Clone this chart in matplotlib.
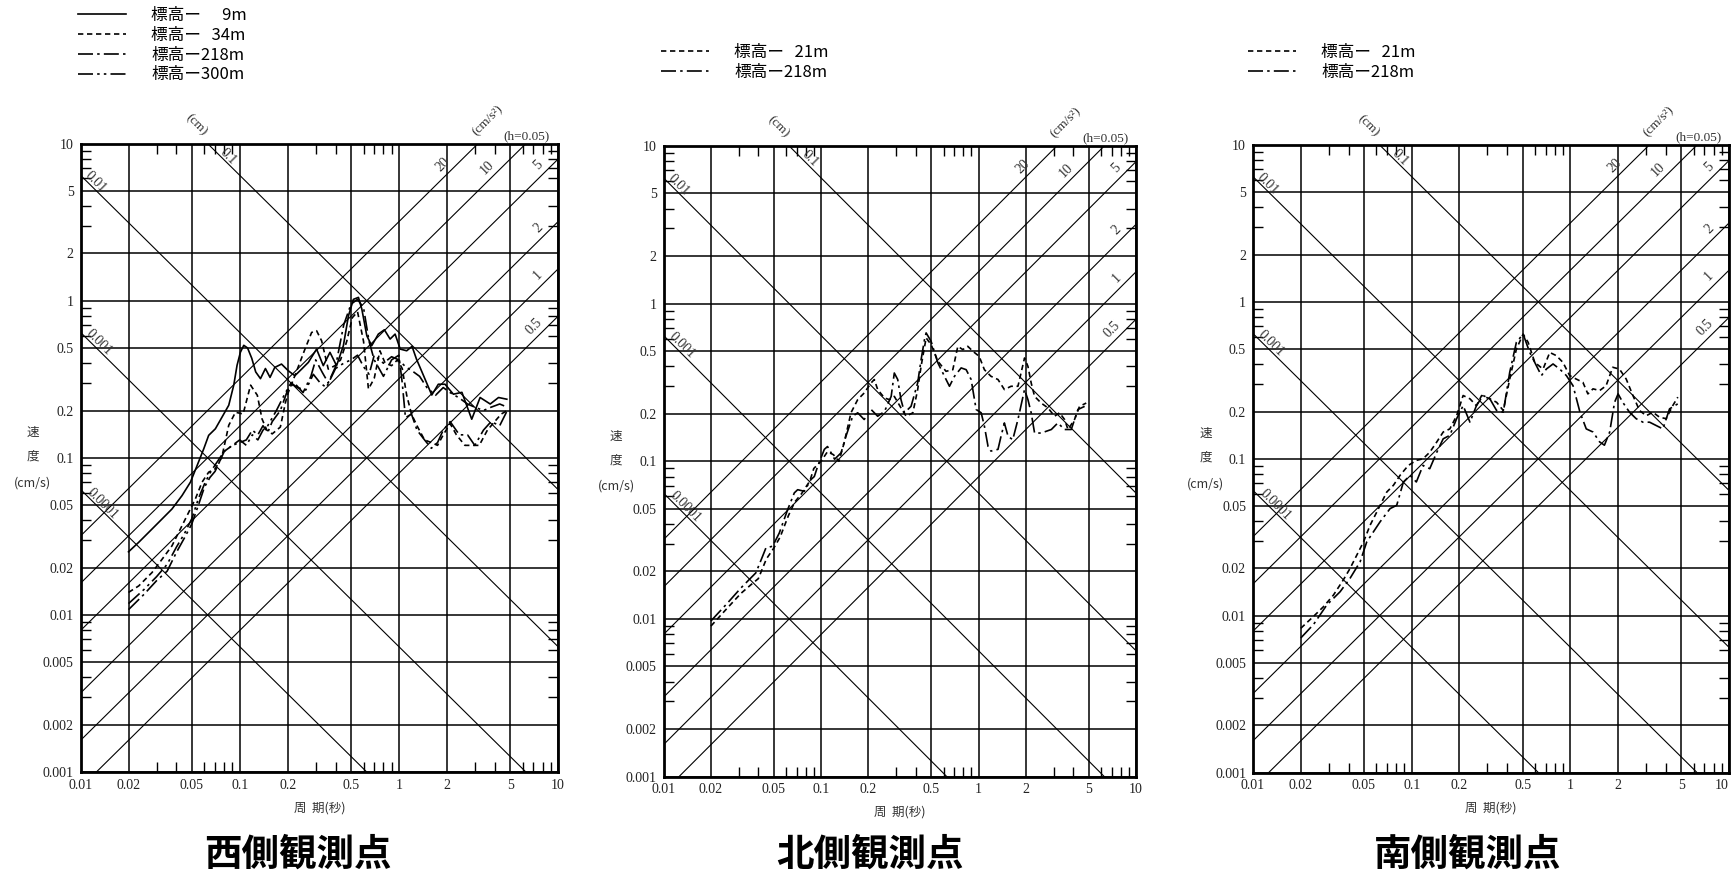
import numpy as np
import matplotlib
matplotlib.use('Agg')
import matplotlib.pyplot as plt
from matplotlib.ticker import FixedLocator, LogLocator, NullFormatter

plt.rcParams['font.family'] = ['Noto Sans CJK JP', 'DejaVu Sans']
SERIF = ['Liberation Serif', 'DejaVu Serif']

# ---- axes scales / reference lines ----
x_ticks = [0.01, 0.02, 0.05, 0.1, 0.2, 0.5, 1, 2, 5, 10]
x_tick_labels = ['0.01', '0.02', '0.05', '0.1', '0.2', '0.5', '1', '2', '5', '10']
y_ticks = [0.001, 0.002, 0.005, 0.01, 0.02, 0.05, 0.1, 0.2, 0.5, 1, 2, 5, 10]
y_tick_labels = ['0.001', '0.002', '0.005', '0.01', '0.02', '0.05', '0.1',
                 '0.2', '0.5', '1', '2', '5', '10']
disp_lines = [0.0001, 0.001, 0.01, 0.1]          # displacement (cm)
disp_labels = ['0.0001', '0.001', '0.01', '0.1']
acc_lines = [0.5, 1, 2, 5, 10, 20]               # acceleration (cm/s2)
acc_labels = ['0.5', '1', '2', '5', '10', '20']

# ---- 西側観測点 ----
w_9_T = [0.02, 0.0232, 0.0281, 0.0325, 0.0375, 0.0434, 0.049, 0.054, 0.0594, 0.0638, 0.0703, 0.0775,
         0.0853, 0.0917, 0.0962, 0.101, 0.106, 0.112, 0.119, 0.126, 0.135, 0.145, 0.155, 0.166, 0.183,
         0.202, 0.222, 0.245, 0.27, 0.304, 0.335, 0.369, 0.406, 0.448, 0.482, 0.518, 0.557, 0.585,
         0.629, 0.675, 0.743, 0.811, 0.881, 0.947, 1.02, 1.12, 1.21, 1.29, 1.43, 1.61, 1.77, 1.95,
         2.2, 2.49, 2.87, 3.24, 3.75, 4.23, 4.77]
w_9_V = [0.0252, 0.029, 0.0352, 0.0408, 0.0472, 0.0575, 0.070, 0.0894, 0.114, 0.139, 0.153, 0.182,
         0.216, 0.29, 0.388, 0.47, 0.52, 0.50, 0.43, 0.352, 0.319, 0.37, 0.325, 0.376, 0.395,
         0.358, 0.333, 0.367, 0.405, 0.492, 0.386, 0.469, 0.386, 0.517, 0.80, 1.02, 1.05, 0.885,
         0.598, 0.517, 0.613, 0.653, 0.57, 0.613, 0.492, 0.48, 0.512, 0.425, 0.333, 0.251, 0.294, 0.294,
         0.254, 0.261, 0.176, 0.242, 0.22, 0.242, 0.236]
w_34_T = [0.02, 0.0232, 0.0281, 0.0325, 0.0375, 0.0434, 0.0478, 0.0526, 0.058, 0.0638, 0.07, 0.077,
          0.0853, 0.094, 0.105, 0.117, 0.129, 0.138, 0.148, 0.160, 0.180, 0.194, 0.202, 0.222, 0.257,
          0.283, 0.304, 0.327, 0.36, 0.397, 0.43, 0.47, 0.51, 0.55, 0.6, 0.644, 0.7, 0.76, 0.82, 0.9,
          0.98, 1.05, 1.12, 1.2, 1.3, 1.45, 1.6, 1.75, 1.9, 2.1, 2.3, 2.6, 2.9, 3.2, 3.6, 4.0, 4.4, 4.8]
w_34_V = [0.0139, 0.0153, 0.0186, 0.0226, 0.0275, 0.037, 0.045, 0.0547, 0.070, 0.081, 0.085, 0.10,
          0.161, 0.195, 0.19, 0.29, 0.25, 0.177, 0.15, 0.142, 0.157, 0.226, 0.261, 0.333, 0.492,
          0.628, 0.644, 0.556, 0.367, 0.386, 0.42, 0.55, 0.78, 0.85, 0.55, 0.274, 0.32, 0.48, 0.40, 0.386,
          0.42, 0.37, 0.25, 0.19, 0.16, 0.13, 0.125, 0.12, 0.14, 0.165, 0.14, 0.12, 0.12, 0.12, 0.15,
          0.17, 0.19, 0.20]
w_218_T = [0.02, 0.025, 0.03, 0.035, 0.04, 0.045, 0.05, 0.055, 0.06, 0.065, 0.07, 0.08, 0.09, 0.1,
           0.11, 0.12, 0.13, 0.14, 0.15, 0.16, 0.18, 0.2, 0.22, 0.25, 0.28, 0.3, 0.33, 0.36, 0.4, 0.45,
           0.5, 0.55, 0.6, 0.65, 0.7, 0.8, 0.9, 1.0, 1.05, 1.1, 1.2, 1.3, 1.45, 1.6, 1.75, 1.9, 2.1,
           2.4, 2.7, 3.0, 3.4, 3.8, 4.3, 4.8]
w_218_V = [0.0108, 0.0135, 0.0165, 0.019, 0.025, 0.031, 0.038, 0.05, 0.065, 0.075, 0.082, 0.11, 0.12,
           0.125, 0.13, 0.15, 0.14, 0.16, 0.145, 0.17, 0.2, 0.27, 0.30, 0.26, 0.33, 0.42, 0.35, 0.30,
           0.38, 0.7, 0.95, 1.02, 0.9, 0.55, 0.42, 0.33, 0.42, 0.45, 0.3, 0.18, 0.19, 0.15, 0.13, 0.115,
           0.125, 0.15, 0.17, 0.14, 0.14, 0.12, 0.15, 0.17, 0.16, 0.20]
w_300_T = [0.02, 0.025, 0.03, 0.035, 0.04, 0.045, 0.05, 0.055, 0.06, 0.065, 0.07, 0.08, 0.09, 0.1,
           0.11, 0.12, 0.13, 0.14, 0.15, 0.17, 0.19, 0.21, 0.23, 0.26, 0.29, 0.32, 0.35, 0.4, 0.45, 0.5,
           0.55, 0.6, 0.65, 0.7, 0.8, 0.9, 1.0, 1.1, 1.2, 1.35, 1.5, 1.7, 1.9, 2.1, 2.4, 2.7, 3.0, 3.4,
           3.8, 4.3, 4.8]
w_300_V = [0.0118, 0.0145, 0.0175, 0.021, 0.027, 0.033, 0.041, 0.055, 0.068, 0.08, 0.09, 0.11, 0.12,
           0.13, 0.12, 0.14, 0.13, 0.15, 0.16, 0.20, 0.25, 0.30, 0.28, 0.27, 0.34, 0.30, 0.28, 0.37,
           0.40, 0.42, 0.45, 0.38, 0.34, 0.45, 0.40, 0.44, 0.42, 0.38, 0.36, 0.33, 0.28, 0.25, 0.28,
           0.26, 0.24, 0.22, 0.21, 0.20, 0.21, 0.22, 0.21]

# ---- 北側観測点 ----
n_21_T = [0.02, 0.025, 0.031, 0.036, 0.04, 0.045, 0.05, 0.055, 0.062, 0.068, 0.075, 0.085, 0.09, 0.1,
          0.11, 0.12, 0.13, 0.14, 0.155, 0.171, 0.188, 0.208, 0.218, 0.229, 0.253, 0.272, 0.292, 0.322,
          0.347, 0.383, 0.411, 0.432, 0.465, 0.5, 0.552, 0.622, 0.687, 0.739, 0.795, 0.855, 0.92, 1.01,
          1.09, 1.2, 1.33, 1.46, 1.61, 1.78, 1.96, 2.06, 2.16, 2.27, 2.5, 2.76, 3.04, 3.27, 3.52, 3.7,
          4.07, 4.38, 4.83]
n_21_V = [0.0090, 0.0115, 0.0145, 0.0165, 0.018, 0.024, 0.028, 0.033, 0.045, 0.055, 0.062, 0.075, 0.09,
          0.10, 0.115, 0.11, 0.10, 0.13, 0.203, 0.246, 0.271, 0.314, 0.33, 0.285, 0.252, 0.246, 0.258,
          0.218, 0.193, 0.203, 0.285, 0.40, 0.606, 0.55, 0.431, 0.372, 0.381, 0.536, 0.511, 0.536,
          0.499, 0.463, 0.381, 0.346, 0.33, 0.285, 0.299, 0.299, 0.452, 0.40, 0.314, 0.258, 0.234,
          0.218, 0.193, 0.203, 0.184, 0.159, 0.184, 0.223, 0.234]
n_218_T = [0.02, 0.0253, 0.031, 0.0386, 0.0426, 0.0447, 0.0493, 0.0543, 0.0614, 0.0677, 0.0711,
           0.0783, 0.0863, 0.0907, 0.0953, 0.105, 0.110, 0.116, 0.122, 0.134, 0.144, 0.159, 0.171,
           0.188, 0.208, 0.229, 0.253, 0.279, 0.292, 0.307, 0.322, 0.339, 0.373, 0.411, 0.432, 0.454,
           0.465, 0.5, 0.552, 0.608, 0.654, 0.704, 0.776, 0.835, 0.898, 0.966, 1.04, 1.09, 1.15, 1.2,
           1.33, 1.39, 1.46, 1.54, 1.65, 1.78, 1.96, 2.06, 2.16, 2.27, 2.5, 2.9, 3.19, 3.52, 3.88,
           4.28, 4.72]
n_218_V = [0.0097, 0.0125, 0.0157, 0.0196, 0.025, 0.0282, 0.0289, 0.035, 0.0493, 0.063, 0.066, 0.0645,
           0.0765, 0.080, 0.093, 0.119, 0.124, 0.113, 0.103, 0.113, 0.144, 0.193, 0.203, 0.184, 0.213,
           0.193, 0.207, 0.258, 0.363, 0.33, 0.246, 0.203, 0.223, 0.314, 0.441, 0.591, 0.652, 0.577,
           0.421, 0.346, 0.299, 0.346, 0.391, 0.381, 0.33, 0.213, 0.203, 0.167, 0.124, 0.116, 0.119,
           0.144, 0.175, 0.144, 0.137, 0.184, 0.285, 0.246, 0.203, 0.151, 0.151, 0.159, 0.175, 0.159,
           0.159, 0.213, 0.223]

# ---- 南側観測点 ----
s_21_T = [0.02, 0.0241, 0.0278, 0.0321, 0.0371, 0.0409, 0.0451, 0.0497, 0.0547, 0.0603, 0.0697,
          0.0767, 0.0845, 0.0953, 0.107, 0.118, 0.13, 0.144, 0.158, 0.174, 0.192, 0.211, 0.233, 0.256,
          0.276, 0.311, 0.343, 0.378, 0.415, 0.457, 0.504, 0.542, 0.597, 0.673, 0.742, 0.817, 0.899,
          0.99, 1.09, 1.2, 1.29, 1.39, 1.53, 1.68, 1.85, 2.04, 2.25, 2.48, 2.73, 3.01, 3.31, 3.65,
          4.02, 4.42, 4.76]
s_21_V = [0.0083, 0.0099, 0.0114, 0.0135, 0.0169, 0.020, 0.0243, 0.0295, 0.0377, 0.0458, 0.0614,
          0.0677, 0.0784, 0.0907, 0.0976, 0.10, 0.11, 0.128, 0.148, 0.155, 0.188, 0.253, 0.241, 0.218,
          0.253, 0.241, 0.229, 0.203, 0.322, 0.5, 0.623, 0.552, 0.411, 0.373, 0.476, 0.454, 0.411,
          0.339, 0.322, 0.307, 0.259, 0.279, 0.272, 0.292, 0.383, 0.373, 0.322, 0.253, 0.203, 0.188,
          0.198, 0.184, 0.18, 0.218, 0.247]
s_218_T = [0.02, 0.0241, 0.0292, 0.0354, 0.0409, 0.0473, 0.0521, 0.0574, 0.0632, 0.0731, 0.0805,
           0.0887, 0.0977, 0.107, 0.118, 0.13, 0.144, 0.158, 0.174, 0.192, 0.211, 0.233, 0.256, 0.282,
           0.311, 0.343, 0.378, 0.415, 0.457, 0.504, 0.555, 0.611, 0.657, 0.706, 0.778, 0.857, 0.944,
           1.04, 1.15, 1.26, 1.39, 1.53, 1.64, 1.77, 1.9, 2.0, 2.14, 2.36, 2.6, 2.87, 3.16, 3.47, 3.83,
           4.22, 4.76]
s_218_V = [0.0072, 0.0088, 0.0117, 0.0142, 0.0173, 0.022, 0.0295, 0.0342, 0.0396, 0.0481, 0.0505,
           0.0711, 0.0784, 0.0711, 0.0907, 0.0864, 0.11, 0.134, 0.141, 0.18, 0.218, 0.171, 0.218,
           0.253, 0.241, 0.203, 0.198, 0.356, 0.552, 0.623, 0.476, 0.392, 0.339, 0.373, 0.402, 0.373,
           0.339, 0.292, 0.198, 0.155, 0.148, 0.128, 0.122, 0.148, 0.229, 0.259, 0.229, 0.198, 0.18,
           0.171, 0.171, 0.163, 0.155, 0.208, 0.224]

STYLES = {
    'solid': '-',
    'dash': (0, (3.2, 2.2)),
    'dashdot': (0, (9, 2.5, 1.5, 2.5)),
    'dashdotdot': (0, (9, 2.5, 1.5, 2.5, 1.5, 2.5)),
}

panels = [
    dict(title='西側観測点', rect=[80.6, 143.6, 558.0, 772.0], title_x=298,
         series=[('標高ー\u2007\u20079m', w_9_T, w_9_V, 'solid'),
                 ('標高ー\u200734m', w_34_T, w_34_V, 'dash'),
                 ('標高ー218m', w_218_T, w_218_V, 'dashdot'),
                 ('標高ー300m', w_300_T, w_300_V, 'dashdotdot')],
         legend_xy=(78, 7)),
    dict(title='北側観測点', rect=[663.5, 146.0, 1136.0, 776.5], title_x=870,
         series=[('標高ー\u200721m', n_21_T, n_21_V, 'dash'),
                 ('標高ー218m', n_218_T, n_218_V, 'dashdot')],
         legend_xy=(661, 44)),
    dict(title='南側観測点', rect=[1253.0, 145.0, 1729.0, 772.5], title_x=1468,
         series=[('標高ー\u200721m', s_21_T, s_21_V, 'dash'),
                 ('標高ー218m', s_218_T, s_218_V, 'dashdot')],
         legend_xy=(1248, 44)),
]

W, H = 1732, 876
fig = plt.figure(figsize=(W / 100, H / 100), dpi=100)

disp_label_T = [0.0138, 0.013, 0.0124, 0.085]
acc_label_T = [7.1, 7.5, 7.5, 7.5, 3.6, 1.9]
Tspan = np.array([0.01, 10.0])

for p in panels:
    x0, y0, x1, y1 = p['rect']
    ax = fig.add_axes([x0 / W, 1 - y1 / H, (x1 - x0) / W, (y1 - y0) / H])
    ax.set_xscale('log')
    ax.set_yscale('log')

    # tripartite reference lines
    for d in disp_lines:
        ax.plot(Tspan, 2 * np.pi * d / Tspan, color='k', lw=0.8, zorder=1)
    for a in acc_lines:
        ax.plot(Tspan, a * Tspan / (2 * np.pi), color='k', lw=0.8, zorder=1)
    for d, lab, t in zip(disp_lines, disp_labels, disp_label_T):
        ax.text(t, 1.12 * 2 * np.pi * d / t, lab, rotation=-45, rotation_mode='anchor',
                ha='center', va='center', fontsize=10, family=SERIF, color='#333')
    for a, lab, t in zip(acc_lines, acc_labels, acc_label_T):
        ax.text(t, 1.22 * a * t / (2 * np.pi), lab, rotation=45, rotation_mode='anchor',
                ha='center', va='center', fontsize=10, family=SERIF, color='#333')

    # spectra
    handles = []
    for name, T, V, st in p['series']:
        ln, = ax.plot(T, V, color='k', lw=1.2, linestyle=STYLES[st], zorder=3, label=name)
        handles.append(ln)

    ax.set_xlim(0.01, 10)
    ax.set_ylim(0.001, 10)
    ax.xaxis.set_major_locator(FixedLocator(x_ticks))
    ax.yaxis.set_major_locator(FixedLocator(y_ticks))
    ax.set_xticklabels(x_tick_labels, family=SERIF, fontsize=10, color='#222')
    ax.set_yticklabels(y_tick_labels, family=SERIF, fontsize=10, color='#222')
    ax.xaxis.set_minor_locator(LogLocator(base=10, subs=(3, 4, 6, 7, 8, 9)))
    ax.yaxis.set_minor_locator(LogLocator(base=10, subs=(3, 4, 6, 7, 8, 9)))
    ax.xaxis.set_minor_formatter(NullFormatter())
    ax.yaxis.set_minor_formatter(NullFormatter())
    ax.tick_params(which='major', length=0, pad=5)
    ax.tick_params(which='minor', direction='in', length=7, width=1.0,
                   top=True, right=True, bottom=True, left=True)
    ax.grid(which='major', color='k', lw=1.1, zorder=0)
    for s in ax.spines.values():
        s.set_linewidth(2.0)
    # keep the last period label inside the figure edge
    if x1 > W - 10:
        ax.get_xticklabels()[-1].set_horizontalalignment('right')

    # axis captions
    ax.text(0.243, 1.03, '(cm)', transform=ax.transAxes, rotation=-45, ha='center',
            va='center', fontsize=9.5, family=SERIF, color='#333')
    ax.text(0.852, 1.037, '(cm/s²)', transform=ax.transAxes, rotation=45, ha='center',
            va='center', fontsize=9.5, family=SERIF, color='#333')
    ax.text(0.935, 1.012, '(h=0.05)', transform=ax.transAxes, ha='center',
            va='center', fontsize=9.5, family=SERIF, color='#333')
    ax.text(0.5, -0.057, '周  期(秒)', transform=ax.transAxes, ha='center', va='center',
            fontsize=9, color='#333')
    for txt, fy in [('速', 0.54), ('度', 0.502), ('(cm/s)', 0.46)]:
        ax.text(-0.1, fy, txt, transform=ax.transAxes, ha='center', va='center',
                fontsize=9, color='#333')

    lx, ly = p['legend_xy']
    ax.legend(handles=handles, loc='upper left', bbox_to_anchor=(lx / W, 1 - ly / H),
              bbox_transform=fig.transFigure, frameon=False, fontsize=12,
              handlelength=2.9, handletextpad=1.5, labelspacing=0.17,
              borderpad=0, borderaxespad=0)

    fig.text(p['title_x'] / W, 1 - 854 / H, p['title'], ha='center', va='center',
             fontsize=27, fontweight='bold')

fig.savefig('out.png', dpi=100)
